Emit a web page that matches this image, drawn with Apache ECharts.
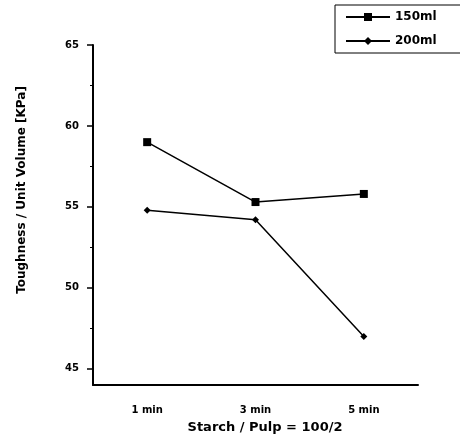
<!DOCTYPE html>
<html><head><meta charset="utf-8">
<script src="https://cdn.jsdelivr.net/npm/echarts@6/dist/echarts.min.js"></script>
<style>html,body{margin:0;padding:0;background:#fff}#c{width:460px;height:439px}</style>
</head><body><div id="c"></div>
<script>
const categories = ['1 min', '3 min', '5 min'];
const s150 = [59.0, 55.3, 55.8];
const s200 = [54.8, 54.2, 47.0];
const yTicks = [45, 50, 55, 60, 65];
const yMinorTicks = [47.5, 52.5, 57.5, 62.5];
const seriesNames = ['150ml', '200ml'];
const xTitle = 'Starch / Pulp = 100/2';
const yTitle = 'Toughness / Unit Volume [KPa]';

const font = 'DejaVu Sans';
const chart = echarts.init(document.getElementById('c'));
chart.setOption({
  animation: false,
  backgroundColor: '#fff',
  grid: {left: 93, right: 42, top: 45, bottom: 54},
  legend: {
    left: 335, top: 5, orient: 'vertical',
    borderColor: '#000', borderWidth: 1, borderRadius: 0,
    padding: [6, 24, 6, 10], itemWidth: 44, itemHeight: 10, itemGap: 12,
    textStyle: {fontFamily: font, fontWeight: 'bold', fontSize: 12, color: '#000'},
    data: seriesNames
  },
  xAxis: {
    type: 'category', data: categories, boundaryGap: true,
    axisLine: {lineStyle: {color: '#000', width: 2}},
    axisTick: {alignWithLabel: true, length: 4, lineStyle: {color: '#000'}},
    axisLabel: {margin: 20, fontFamily: font, fontWeight: 'bold', fontSize: 10, color: '#000'},
    splitLine: {show: false}
  },
  yAxis: [{
    type: 'value', min: 44, max: 65,
    axisLine: {show: true, lineStyle: {color: '#000', width: 2}},
    axisTick: {show: true, length: 6, customValues: yTicks, lineStyle: {color: '#000', width: 1.5}},
    axisLabel: {customValues: yTicks, margin: 14, fontFamily: font, fontWeight: 'bold', fontSize: 10, color: '#000'},
    splitLine: {show: false}
  }, {
    type: 'value', min: 44, max: 65, position: 'left',
    axisLine: {show: false},
    axisTick: {show: true, length: 3, customValues: yMinorTicks, lineStyle: {color: '#000'}},
    axisLabel: {show: false},
    splitLine: {show: false}
  }],
  graphic: [
    {type: 'text', x: 265, y: 428, style: {text: xTitle, fill: '#000', font: 'bold 13px "DejaVu Sans"', align: 'center', verticalAlign: 'middle'}},
    {type: 'text', x: 22, y: 190, rotation: Math.PI / 2, style: {text: yTitle, fill: '#000', font: 'bold 12px "DejaVu Sans"', align: 'center', verticalAlign: 'middle'}}
  ],
  series: [
    {name: seriesNames[0], type: 'line', data: s150, symbol: 'rect', symbolSize: 8,
     lineStyle: {color: '#000', width: 1.5}, itemStyle: {color: '#000'}},
    {name: seriesNames[1], type: 'line', data: s200, symbol: 'diamond', symbolSize: 7,
     lineStyle: {color: '#000', width: 1.5}, itemStyle: {color: '#000'}}
  ]
});
</script></body></html>
